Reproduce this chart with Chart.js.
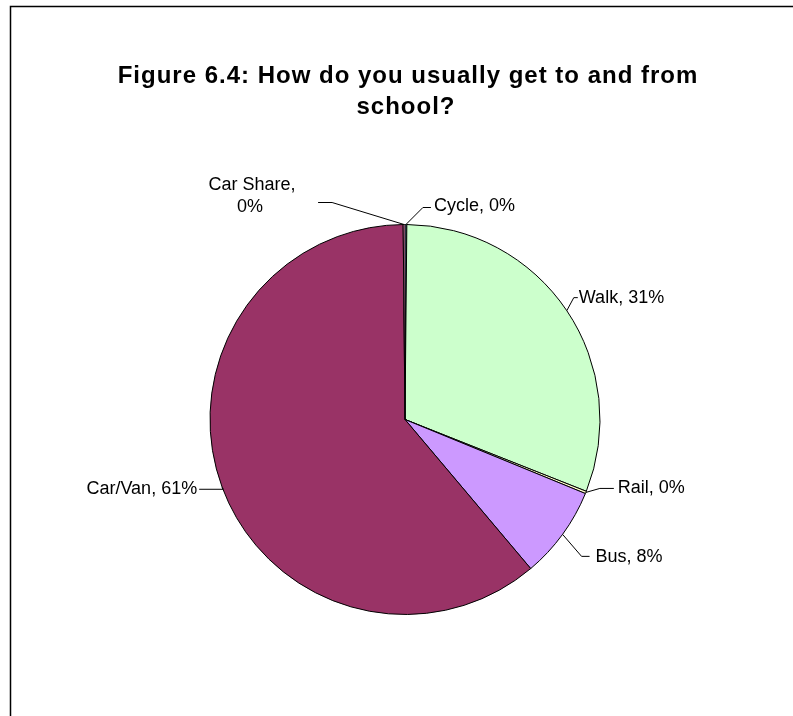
<!DOCTYPE html>
<html>
<head>
<meta charset="utf-8">
<script src="https://cdn.jsdelivr.net/npm/chart.js@4/dist/chart.umd.min.js"></script>
<style>
  html, body { margin: 0; padding: 0; background: #ffffff; }
  #wrap { position: relative; width: 793px; height: 716px; }
  canvas { display: block; }
</style>
</head>
<body>
<div id="wrap"><canvas id="c" width="793" height="716"></canvas></div>
<script>
// ---- Data ----
const titleLines = ["Figure 6.4: How do you usually get to and from", "school?"];
const categories = ["Cycle", "Walk", "Rail", "Bus", "Car/Van", "Car Share"];
const values = [0.15, 30.85, 0.2, 7.65, 61.0, 0.15];
const colors = ["#99CCFF", "#CCFFCC", "#FFFFCC", "#CC99FF", "#993366", "#FF99CC"];

// ---- Label layout (offsets from the arc anchor point) ----
const labelLayout = [
  { elbow: [17, -17], end: [25, -17], text: [28, -18], align: "left" },
  { elbow: [7, -13], end: [11, -13], text: [12, -13], align: "left" },
  { elbow: [14, -4], end: [28, -4], text: [32, -4], align: "left" },
  { elbow: [19, 22], end: [27, 22], text: [33, 23], align: "left" },
  { elbow: [1, 2], end: [-23, 2], text: [-25, 2], align: "right" },
  { elbow: [-72, -22], end: [-86, -22], text: [-152, -39], align: "center", split: true }
];

const frameAndTitle = {
  id: "frameAndTitle",
  beforeDraw(chart) {
    const ctx = chart.ctx;
    ctx.save();
    ctx.fillStyle = "#ffffff";
    ctx.fillRect(0, 0, chart.width, chart.height);
    ctx.strokeStyle = "#000000";
    ctx.lineWidth = 1.5;
    ctx.beginPath();
    ctx.moveTo(10.5, chart.height + 5);
    ctx.lineTo(10.5, 6.5);
    ctx.lineTo(chart.width + 5, 6.5);
    ctx.stroke();
    ctx.fillStyle = "#000000";
    ctx.font = "bold 24px 'Liberation Sans', Arial, sans-serif";
    if ("letterSpacing" in ctx) ctx.letterSpacing = "1px";
    ctx.textAlign = "center";
    ctx.textBaseline = "middle";
    ctx.fillText(titleLines[0], 408, 76);
    ctx.fillText(titleLines[1], 406, 107);
    ctx.restore();
  }
};

const pieLabels = {
  id: "pieLabels",
  afterDraw(chart) {
    const ctx = chart.ctx;
    const meta = chart.getDatasetMeta(0);
    ctx.save();
    ctx.font = "18px 'Liberation Sans', Arial, sans-serif";
    ctx.fillStyle = "#000000";
    ctx.strokeStyle = "#000000";
    ctx.lineWidth = 1;
    ctx.textBaseline = "middle";
    meta.data.forEach((arc, i) => {
      const p = arc.getProps(["x", "y", "startAngle", "endAngle", "outerRadius"], true);
      const mid = (p.startAngle + p.endAngle) / 2;
      const ax = p.x + Math.cos(mid) * p.outerRadius;
      const ay = p.y + Math.sin(mid) * p.outerRadius;
      const L = labelLayout[i];
      ctx.beginPath();
      ctx.moveTo(ax, ay);
      ctx.lineTo(ax + L.elbow[0], ay + L.elbow[1]);
      ctx.lineTo(ax + L.end[0], ay + L.end[1]);
      ctx.stroke();
      const pct = Math.round(values[i]) + "%";
      ctx.textAlign = L.align;
      const tx = ax + L.text[0], ty = ay + L.text[1];
      if (L.split) {
        ctx.fillText(categories[i] + ",", tx, ty);
        ctx.fillText(pct, tx - 2, ty + 22);
      } else {
        ctx.fillText(categories[i] + ", " + pct, tx, ty);
      }
    });
    ctx.restore();
  }
};

new Chart(document.getElementById("c"), {
  type: "pie",
  data: {
    labels: categories,
    datasets: [{
      data: values,
      backgroundColor: colors,
      borderColor: "#000000",
      borderWidth: 1
    }]
  },
  options: {
    responsive: false,
    animation: false,
    layout: { padding: { left: 209.5, right: 192.5, top: 224, bottom: 101 } },
    plugins: { legend: { display: false }, tooltip: { enabled: false }, title: { display: false } }
  },
  plugins: [frameAndTitle, pieLabels]
});
</script>
</body>
</html>
